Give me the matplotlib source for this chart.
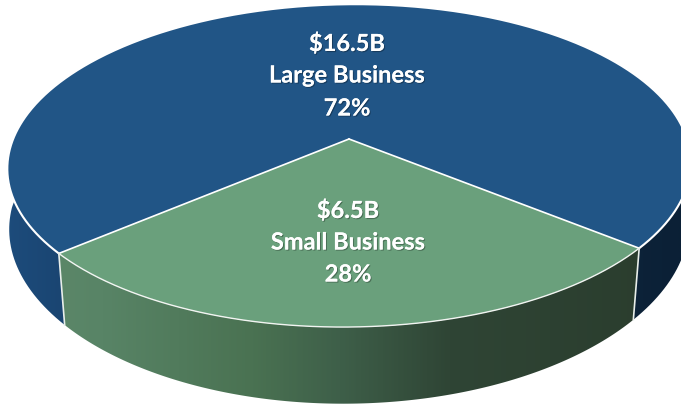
import numpy as np
import matplotlib
matplotlib.use("Agg")
import matplotlib.pyplot as plt
import matplotlib.patheffects as pe
from matplotlib.colors import LinearSegmentedColormap
from matplotlib.patches import Polygon

# data
segments = ["Large Business", "Small Business"]
amounts = ["$16.5B", "$6.5B"]
shares = [72, 28]

TOP_BLUE = "#215586"
TOP_GREEN = "#6aa07c"

# tilted disc, numbers in pixels
CX, CY = 349, 139
A, B, K = 337, 157, 0.165
DEPTH = 64
TILT = 0.009


def rim(theta):
    # theta in degrees, measured from straight down, going clockwise
    t = np.radians(theta)
    u, v = -np.sin(t), -np.cos(t)
    w = 1 + K * v
    x = CX + A * u / w
    y = CY - B * v / w - TILT * (A * u / w)
    return x, y, w, v


def lower(theta):
    # same point on the bottom edge of the wall
    x, y, w, v = rim(theta)
    s = 0.999 - 0.03 * np.abs(v)
    return CX + (x - CX) * s, y + DEPTH / w


def side_poly(t0, t1):
    th = np.linspace(t0, t1, 200)
    x, y, _, _ = rim(th)
    xb, yb = lower(th)
    return np.r_[np.c_[x, y], np.c_[xb, yb][::-1]]


def gradient(ax, poly, stops):
    cmap = LinearSegmentedColormap.from_list("side", stops)
    xs = np.linspace(0, 1, 400).reshape(1, -1)
    im = ax.imshow(xs, cmap=cmap, extent=(0, 681, 405, 0), aspect="auto", zorder=1)
    patch = Polygon(poly, closed=True, transform=ax.transData, fc="none", ec="none")
    ax.add_patch(patch)
    im.set_clip_path(patch)


fig = plt.figure(figsize=(6.81, 4.05), dpi=100)
ax = fig.add_axes([0, 0, 1, 1])
ax.axis("off")

half = shares[1] / sum(shares) * 360 / 2

# sides
blue_stops = [(0, "#1d4c7c"), (0.09, "#1a4572"), (0.5, "#123050"), (0.92, "#0d2339"), (1, "#0b2036")]
green_stops = [(0, "#5f8a6b"), (0.15, "#588466"), (0.37, "#4a7252"), (0.5, "#3e5f49"),
               (0.66, "#2f4535"), (1, "#2a3c2d")]
gradient(ax, side_poly(half, 360 - half), blue_stops)
gradient(ax, side_poly(-half, half), green_stops)

# top of the pie
th = np.linspace(half, 360 - half, 500)
x, y, _, _ = rim(th)
ax.add_patch(Polygon(np.r_[np.c_[x, y], [[CX, CY]]], fc=TOP_BLUE, ec="none", zorder=2))
th = np.linspace(-half, half, 300)
x, y, _, _ = rim(th)
ax.add_patch(Polygon(np.r_[np.c_[x, y], [[CX, CY]]], fc=TOP_GREEN, ec="none", zorder=2))

# white edges
th = np.linspace(half, 360 - half, 700)
x, y, _, _ = rim(th)
ax.plot(x, y, color="white", lw=1.5, zorder=3)
th = np.linspace(-half, half, 300)
x, y, _, _ = rim(th)
ax.plot(x, y, color="#f2f5f2", lw=1.0, zorder=3)
for a in (-half, half):
    x0, y0, _, _ = rim(a)
    x1, y1 = lower(a)
    ax.plot([CX, x0], [CY, y0], color="white", lw=1.2, zorder=3)
    ax.plot([x0, x1], [y0, y1], color="#e8eeea", lw=1.2, zorder=3)

# labels
shadow = [pe.withSimplePatchShadow(offset=(0.8, -0.8), shadow_rgbFace="#000000", alpha=0.3), pe.Normal()]
label_y = [[43, 75, 108], [210, 242, 274]]
label_x = [347, 348]
for i in range(2):
    lines = [amounts[i], segments[i], f"{shares[i]}%"]
    for line, ly in zip(lines, label_y[i]):
        ax.text(label_x[i], ly, line, color="white", fontsize=17, fontweight="bold", family="Lato",
                ha="center", va="center", zorder=4, path_effects=shadow)

ax.set_xlim(0, 681)
ax.set_ylim(405, 0)
fig.savefig("out.png", dpi=100)
